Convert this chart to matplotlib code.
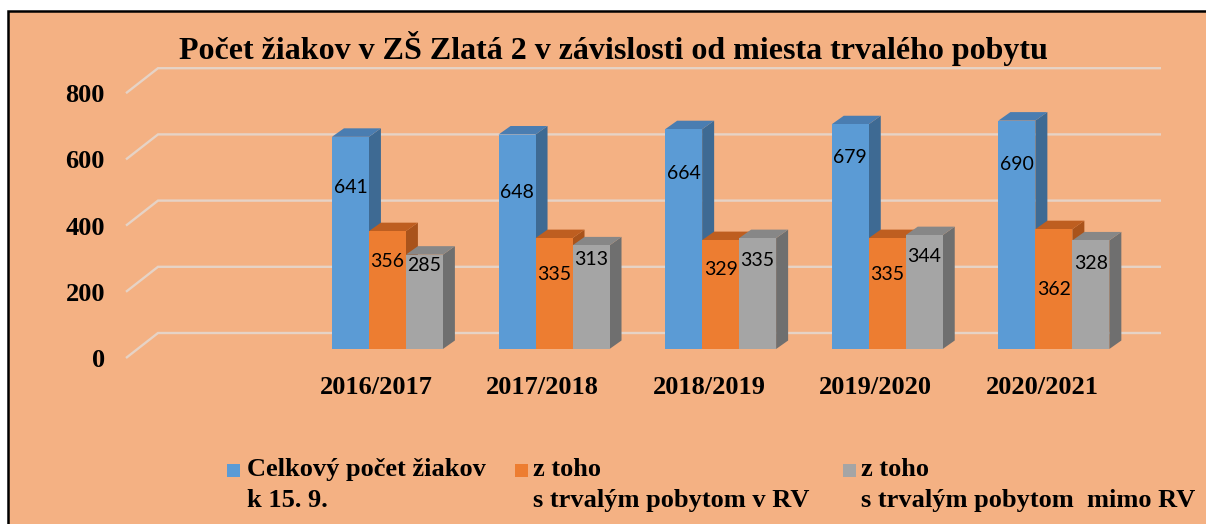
import matplotlib
matplotlib.use("Agg")
import matplotlib.pyplot as plt
from matplotlib.patches import Polygon, Rectangle

# ---------------- data ----------------
categories = ["2016/2017", "2017/2018", "2018/2019", "2019/2020", "2020/2021"]
total = [641, 648, 664, 679, 690]
in_rv = [356, 335, 329, 335, 362]
out_rv = [285, 313, 335, 344, 328]
series_labels = ["Celkový počet žiakov\nk 15. 9.",
                 "z toho\ns trvalým pobytom v RV",
                 "z toho\ns trvalým pobytom  mimo RV"]
y_ticks = [0, 200, 400, 600, 800]
title_text = "Počet žiakov v ZŠ Zlatá 2 v závislosti od miesta trvalého pobytu"

# ---------------- style / layout ----------------
# vertical placement of the value labels (fraction of bar height), as in the original
label_frac = [[0.76, 0.73, 0.80, 0.85, 0.81],
              [0.74, 0.67, 0.73, 0.67, 0.50],
              [0.88, 0.86, 0.80, 0.81, 0.79]]
front_c = ["#5B9BD5", "#ED7D31", "#A5A5A5"]
top_c = ["#4A7DB1", "#BE5E20", "#878787"]
side_c = ["#3E6A93", "#A9531B", "#6F6F6F"]
PEACH = "#F4B183"
GRID = "#E6D3C6"
SERIF = "Liberation Serif"

W, H, DPI = 1206, 524, 100
fig = plt.figure(figsize=(W / DPI, H / DPI), dpi=DPI)
fig.patch.set_facecolor("white")
fig.patches.append(Rectangle((8 / W, -0.1), 1.2, (H - 11) / H + 0.1,
                             transform=fig.transFigure, facecolor=PEACH,
                             edgecolor="black", linewidth=1.8, zorder=-5))

# axes (plane of the bar fronts)
YMIN, YMAX = -60, 840
PXU = 0.331          # pixels per value unit
L, R = 137.5, 1140.5
B = 349 - YMIN * PXU
T = 349 - YMAX * PXU
ax = fig.add_axes([L / W, 1 - B / H, (R - L) / W, (B - T) / H])
ax.set_facecolor("none")
ax.set_zorder(1)
ax.set_xlim(-1.5, 4.52)
ax.set_ylim(YMIN, YMAX)
for s in ax.spines.values():
    s.set_visible(False)


def px(dxp, dyp):
    x0, y0 = ax.transData.transform((0, 0))
    x1, y1 = ax.transData.transform((1, 1))
    return dxp / (x1 - x0), dyp / (y1 - y0)


bx, by = px(20.5, 16)      # back wall offset
fx, fy = px(-11.5, -9)     # front plane offset
ddx, ddy = px(12, 8.5)     # bar depth
xmin, xmax = ax.get_xlim()

# gridlines on the back wall + floor diagonals
for v in y_ticks:
    ax.plot([xmin + fx, xmin + bx, xmax + bx], [v + fy, v + by, v + by],
            color=GRID, lw=1.7, clip_on=False, zorder=1,
            solid_joinstyle="miter", solid_capstyle="butt")

# bars
w = 0.222
series = [total, in_rv, out_rv]
for j, vals in enumerate(series):
    xs = [i + (j - 1) * w for i in range(len(categories))]
    for x, v in zip(xs, vals):
        xl, xr = x - w / 2, x + w / 2
        ax.add_patch(Polygon([(xr, 0), (xr, v), (xr + ddx, v + ddy), (xr + ddx, ddy)],
                             closed=True, facecolor=side_c[j], edgecolor="none",
                             zorder=3 + 3 * j))
        ax.add_patch(Polygon([(xl, v), (xr, v), (xr + ddx, v + ddy), (xl + ddx, v + ddy)],
                             closed=True, facecolor=top_c[j], edgecolor="none",
                             zorder=3 + 3 * j))
    ax.bar(xs, vals, width=w, color=front_c[j], linewidth=0, zorder=4 + 3 * j)
    for k, (x, v) in enumerate(zip(xs, vals)):
        ax.text(x, v * label_frac[j][k], str(v), ha="center", va="center",
                fontsize=14, family="Lato", color="black", zorder=30)

# ticks (placed on the front plane of the 3-D floor)
ax.set_yticks([v + fy for v in y_ticks], [str(v) for v in y_ticks])
ax.set_xticks([i + fx for i in range(len(categories))], categories)
ax.tick_params(axis="both", length=0)
ax.tick_params(axis="y", pad=23.4)
ax.tick_params(axis="x", pad=5)
for lbl in ax.get_xticklabels() + ax.get_yticklabels():
    lbl.set_fontfamily(SERIF)
    lbl.set_fontweight("bold")
    lbl.set_fontsize(19)

# title
fig.text(613 / W, 1 - 48 / H, title_text, ha="center", va="center",
         fontsize=23, fontweight="bold", family=SERIF)

# legend
leg_sq_x = [227, 515, 843]
leg_tx_x = [247, 533, 861]
for j in range(3):
    fig.patches.append(Rectangle((leg_sq_x[j] / W, 1 - 477 / H), 13 / W, 13 / H,
                                 transform=fig.transFigure, facecolor=front_c[j],
                                 edgecolor="none", zorder=2))
    fig.text(leg_tx_x[j] / W, 1 - 458 / H, series_labels[j], ha="left", va="top",
             fontsize=19, fontweight="bold", family=SERIF, linespacing=1.42)

fig.savefig("out.png", dpi=DPI)
